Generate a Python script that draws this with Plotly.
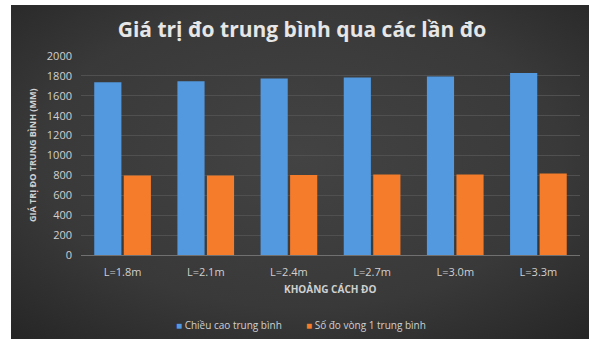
import plotly.graph_objects as go
import base64

categories = ["L=1.8m", "L=2.1m", "L=2.4m", "L=2.7m", "L=3.0m", "L=3.3m"]
chieu_cao = [1735, 1745, 1775, 1785, 1795, 1830]
vong1 = [800, 800, 805, 808, 810, 818]
y_ticks = [0, 200, 400, 600, 800, 1000, 1200, 1400, 1600, 1800, 2000]
series_names = ["Chiều cao trung bình", "Số đo vòng 1 trung bình"]
colors = ["#5299DF", "#F47C2A"]

W, H = 589, 339
L, R, T, B = 81, 9, 56, 84
pw, ph = W - L - R, H - T - B

def px(x):
    return (x - L) / pw

def py(y):
    return (H - B - y) / ph

fig = go.Figure()
fig.add_trace(go.Bar(x=categories, y=chieu_cao, name=series_names[0],
                     marker=dict(color=colors[0], line=dict(width=0))))
fig.add_trace(go.Bar(x=categories, y=vong1, name=series_names[1],
                     marker=dict(color=colors[1], line=dict(width=0))))

fig.update_layout(
    width=W, height=H,
    margin=dict(l=L, r=R, t=T, b=B),
    paper_bgcolor="#363636",
    plot_bgcolor="rgba(0,0,0,0)",
    barmode="group", bargap=0.29, bargroupgap=0.08,
    showlegend=False,
    title=dict(text="<b>Giá trị đo trung bình qua các lần đo</b>",
               x=302 / W, xref="container", xanchor="center",
               y=1 - 30 / H, yref="container", yanchor="middle",
               font=dict(family="Open Sans", size=21, color="#e6e6e6")),
    font=dict(family="Open Sans", color="#d0d0d0"),
)
fig.update_xaxes(showgrid=False, showline=False, ticks="", ticklabelstandoff=9,
                 tickfont=dict(size=11, color="#d0d0d0"))
fig.update_yaxes(range=[0, 2000], tickvals=y_ticks, showgrid=True, gridcolor="#505050",
                 gridwidth=1, zeroline=True, zerolinecolor="#707070", zerolinewidth=1,
                 ticks="", ticklabelstandoff=8, tickfont=dict(size=11, color="#d0d0d0"))

# vignette background (radial gradient) for the dark chart area
svg = ('<svg xmlns="http://www.w3.org/2000/svg" width="600" height="340" viewBox="0 0 600 340" '
       'preserveAspectRatio="none"><defs><radialGradient id="g" cx="0.5" cy="0.45" r="0.75">'
       '<stop offset="0" stop-color="#434343"/><stop offset="0.6" stop-color="#393939"/>'
       '<stop offset="1" stop-color="#252525"/></radialGradient></defs>'
       '<rect width="600" height="340" fill="url(#g)"/></svg>')
src = "data:image/svg+xml;base64," + base64.b64encode(svg.encode()).decode()
fig.add_layout_image(source=src, xref="paper", yref="paper", x=px(11), y=py(5),
                     sizex=(W + 2 - 11) / pw, sizey=(H + 2 - 5) / ph,
                     xanchor="left", yanchor="top", sizing="stretch", layer="below")

# white frame around the dark chart area (left and top strips)
fig.add_shape(type="rect", xref="paper", yref="paper", layer="below",
              x0=px(-5), x1=px(11), y0=py(H + 5), y1=py(-5),
              fillcolor="white", line=dict(width=0))
fig.add_shape(type="rect", xref="paper", yref="paper", layer="below",
              x0=px(-5), x1=px(W + 5), y0=py(5), y1=py(-5),
              fillcolor="white", line=dict(width=0))

fig.add_annotation(text="<b>GIÁ TRỊ ĐO TRUNG BÌNH (MM)</b>", xref="paper", yref="paper",
                   x=px(32), y=py(156), textangle=-90, showarrow=False,
                   xanchor="center", yanchor="middle",
                   font=dict(family="Open Sans", size=9, color="#d0d0d0"))
fig.add_annotation(text="<b>KHOẢNG CÁCH ĐO</b>", xref="paper", yref="paper",
                   x=px(330), y=py(289), showarrow=False,
                   xanchor="center", yanchor="middle",
                   font=dict(family="Open Sans", size=10, color="#d0d0d0"))

# legend
legend_x = [174, 304]
for name, col, lx in zip(series_names, colors, legend_x):
    fig.add_annotation(text=f'<span style="color:{col}">■</span> {name}',
                       xref="paper", yref="paper", x=px(lx), y=py(325),
                       showarrow=False, xanchor="left", yanchor="middle",
                       font=dict(family="Open Sans", size=10, color="#d0d0d0"))

fig.write_html("out.html")
